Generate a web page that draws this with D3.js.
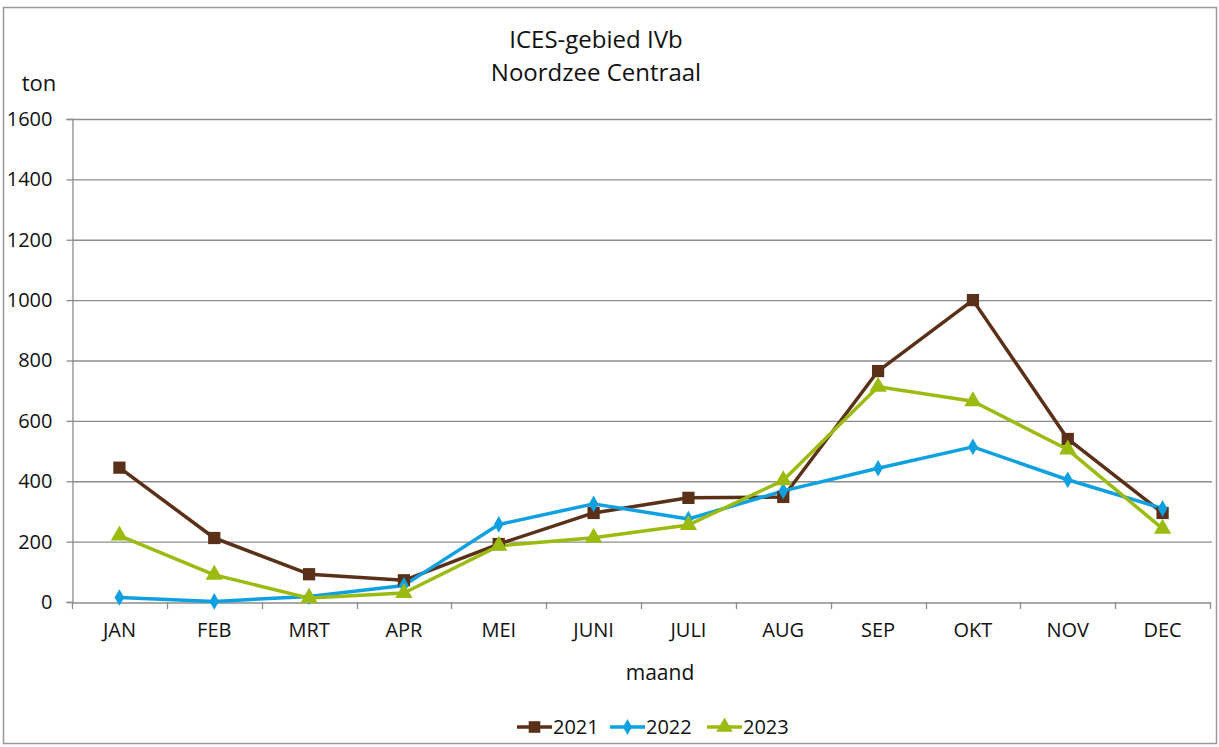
<!DOCTYPE html>
<html><head><meta charset="utf-8">
<script src="https://cdn.jsdelivr.net/npm/d3@7"></script>
<style>body{margin:0;background:#fff}svg{display:block}text{font-family:"Open Sans","Noto Sans",sans-serif;fill:#111}</style>
</head><body><svg id="c" width="1219" height="747"></svg>
<script>
const months = ["JAN","FEB","MRT","APR","MEI","JUNI","JULI","AUG","SEP","OKT","NOV","DEC"];
const v2021 = [445,212,92,72,192,295,345,348,765,1000,540,295];
const v2022 = [15,2,18,55,257,325,275,368,443,514,405,310];
const v2023 = [220,90,13,30,186,213,255,403,713,665,505,243];
const yTicks = [0,200,400,600,800,1000,1200,1400,1600];
const seriesNames = ["2021","2022","2023"];
const colors = ["#5a3118","#0ea0e0","#9bbb10"];
const symbols = [d3.symbolSquare, d3.symbolDiamond, d3.symbolTriangle];
const symSizes = [150, 80, 130];

const svg = d3.select("#c");
svg.append("rect").attr("x",3.5).attr("y",7.5).attr("width",1213).attr("height",736)
  .attr("fill","#fff").attr("stroke","#999").attr("stroke-width",1.5);

const L=72, R=1210, T=119, B=602;
const x = d3.scaleBand().domain(months).range([L,R]);
const y = d3.scaleLinear().domain([0,1600]).range([B,T]);

// gridlines
svg.append("g").selectAll("line").data(yTicks.filter(d=>d>0)).join("line")
  .attr("x1",L).attr("x2",R+2).attr("y1",d=>y(d)+0.5).attr("y2",d=>y(d)+0.5)
  .attr("stroke","#8c8c8c").attr("stroke-width",1.3);

// y axis
const ya = svg.append("g").attr("transform",`translate(${L+0.5},0)`)
  .call(d3.axisLeft(y).tickValues(yTicks).tickSize(6).tickPadding(14).tickFormat(d3.format("d")));
ya.select(".domain").attr("stroke","#8c8c8c").attr("stroke-width",1.3);
ya.selectAll(".tick line").attr("stroke","#8c8c8c").attr("stroke-width",1.3);
ya.selectAll("text").attr("font-size",20).attr("fill","#111");

// x axis
const xa = svg.append("g").attr("transform",`translate(0,${B+0.5})`)
  .call(d3.axisBottom(x).tickSize(0).tickPadding(20));
xa.select(".domain").attr("stroke","#8c8c8c").attr("stroke-width",1.3);
xa.selectAll("text").attr("font-size",20).attr("fill","#111");
svg.append("g").selectAll("line").data(months.concat(["_end"])).join("line")
  .attr("x1",(d,i)=>Math.round(L+i*x.step())+0.5).attr("x2",(d,i)=>Math.round(L+i*x.step())+0.5)
  .attr("y1",B).attr("y2",B+7).attr("stroke","#8c8c8c").attr("stroke-width",1.3);

// titles
svg.append("text").attr("x",596).attr("y",48).attr("text-anchor","middle").attr("font-size",24).text("ICES-gebied IVb");
svg.append("text").attr("x",596).attr("y",81).attr("text-anchor","middle").attr("font-size",24).text("Noordzee Centraal");
svg.append("text").attr("x",39).attr("y",91).attr("text-anchor","middle").attr("font-size",22).text("ton");
svg.append("text").attr("x",660).attr("y",680).attr("text-anchor","middle").attr("font-size",21).text("maand");

// series
const allSeries = [v2021, v2022, v2023];
const line = d3.line().x((d,i)=>x(months[i])+x.bandwidth()/2).y(d=>y(d));
allSeries.forEach((vals,k)=>{
  svg.append("path").datum(vals).attr("d",line).attr("fill","none")
    .attr("stroke",colors[k]).attr("stroke-width",3.5).attr("stroke-linejoin","round");
});
allSeries.forEach((vals,k)=>{
  svg.append("g").selectAll("path").data(vals).join("path")
    .attr("d",d3.symbol().type(symbols[k]).size(symSizes[k]))
    .attr("transform",(d,i)=>`translate(${x(months[i])+x.bandwidth()/2},${y(d)})`)
    .attr("fill",colors[k]);
});

// legend
const legX = [517,610,707];
seriesNames.forEach((n,k)=>{
  const g = svg.append("g").attr("transform",`translate(${legX[k]},727)`);
  g.append("line").attr("x1",0).attr("x2",35).attr("y1",0).attr("y2",0).attr("stroke",colors[k]).attr("stroke-width",3.5);
  g.append("path").attr("d",d3.symbol().type(symbols[k]).size(symSizes[k]*0.9)).attr("transform","translate(17.5,0)").attr("fill",colors[k]);
  g.append("text").attr("x",36).attr("y",7).attr("font-size",20).text(n);
});
</script></body></html>
